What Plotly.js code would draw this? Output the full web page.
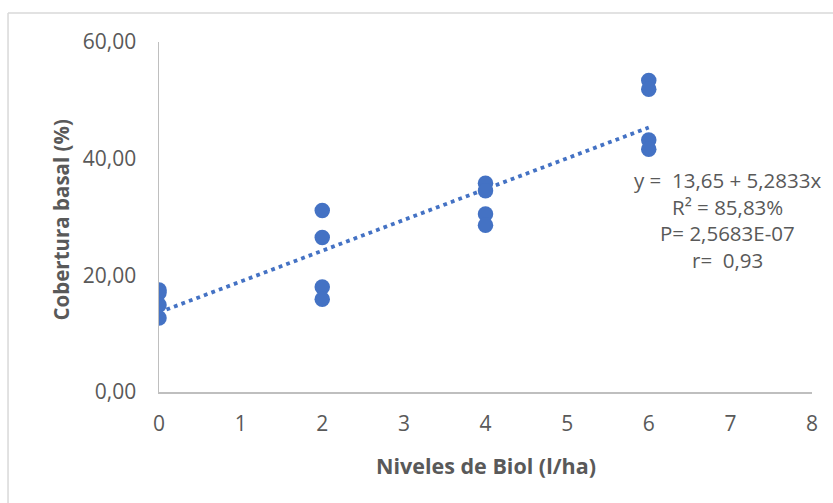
<!DOCTYPE html>
<html>
<head>
<meta charset="utf-8">
<script src="https://cdn.plot.ly/plotly-3.0.1.min.js"></script>
<style>
html,body{margin:0;padding:0;background:#fff;}
#chart{width:833px;height:503px;}
</style>
</head>
<body>
<div id="chart"></div>
<script>
// Data
const nivelesBiol = [0, 0, 0, 0, 2, 2, 2, 2, 4, 4, 4, 4, 6, 6, 6, 6];
const coberturaBasal = [17.5, 17.0, 14.9, 12.7, 31.1, 26.5, 18.0, 15.9, 35.8, 34.5, 30.5, 28.6, 53.4, 51.9, 43.2, 41.6];
const intercepto = 13.65;
const pendiente = 5.2833;
const trendX = [0, 6];
const trendY = trendX.map(v => intercepto + pendiente * v);
const xTicks = [0, 1, 2, 3, 4, 5, 6, 7, 8];
const yTicks = [0, 20, 40, 60];
const xTitle = "Niveles de Biol (l/ha)";
const yTitle = "Cobertura basal (%)";
const annotationLines = ["y = \u00A013,65 + 5,2833x", "R² = 85,83%", "P= 2,5683E-07", "r= \u00A00,93"];

const FONT = "'Open Sans', 'Noto Sans', sans-serif";
const GREY = "#595959";
const BLUE = "#4472C4";

const traces = [
  {
    x: trendX, y: trendY, type: "scatter", mode: "lines",
    line: {color: BLUE, width: 3.8, dash: "3.8px,4.2px"},
    hoverinfo: "skip", showlegend: false
  },
  {
    x: nivelesBiol, y: coberturaBasal, type: "scatter", mode: "markers",
    marker: {color: BLUE, size: 15.5, line: {width: 0}},
    showlegend: false
  }
];

// positions of the statistics block (data coords), one line each
const statX = 6.96;
const statY0 = 36.3, statStep = 4.55;

const annotations = annotationLines.map((t, i) => ({
  x: statX, y: statY0 - i * statStep, xref: "x", yref: "y",
  text: t, showarrow: false, xanchor: "center", yanchor: "middle",
  font: {family: FONT, size: 20.5, color: GREY}
}));
annotations.push({
  x: 0.5, y: -0.209, xref: "paper", yref: "paper", text: "<b>" + xTitle + "</b>",
  showarrow: false, xanchor: "center", yanchor: "middle",
  font: {family: FONT, size: 21.5, color: GREY}
});
annotations.push({
  x: -0.1516, y: 0.49, xref: "paper", yref: "paper", text: "<b>" + yTitle + "</b>",
  showarrow: false, xanchor: "center", yanchor: "middle", textangle: -90,
  font: {family: FONT, size: 20.5, color: GREY}
});

const layout = {
  width: 833, height: 503,
  margin: {l: 159, r: 21, t: 42, b: 111},
  paper_bgcolor: "#fff", plot_bgcolor: "#fff",
  separators: ",.",
  font: {family: FONT, color: GREY, size: 21},
  showlegend: false,
  xaxis: {
    range: [0, 8], tickvals: xTicks, ticks: "", showgrid: false, zeroline: false,
    showline: true, linecolor: "#BFBFBF", linewidth: 1.5,
    tickfont: {family: FONT, size: 21, color: GREY}, ticklabelstandoff: 12
  },
  yaxis: {
    range: [0, 60], tickvals: yTicks, tickformat: ".2f", ticks: "", showgrid: false, zeroline: false,
    showline: true, linecolor: "#BFBFBF", linewidth: 1.5,
    tickfont: {family: FONT, size: 21, color: GREY}, ticklabelstandoff: 17
  },
  annotations: annotations,
  shapes: [
    {type: "line", xref: "paper", yref: "paper", x0: -0.2312, x1: -0.2312, y0: 1.083, y1: -0.32, line: {color: "#D9D9D9", width: 1.5}},
    {type: "line", xref: "paper", yref: "paper", x0: -0.2312, x1: 1.04, y0: 1.083, y1: 1.083, line: {color: "#D9D9D9", width: 1.5}}
  ]
};

Plotly.newPlot("chart", traces, layout, {displayModeBar: false, staticPlot: true});
</script>
</body>
</html>
